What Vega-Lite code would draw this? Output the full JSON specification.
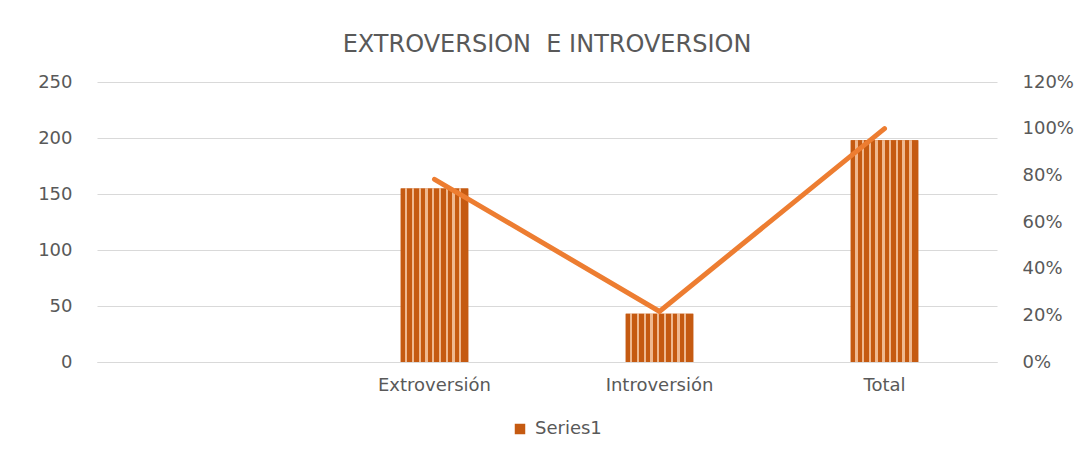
{
  "$schema": "https://vega.github.io/schema/vega-lite/v6.json",
  "autosize": "none",
  "width": 900,
  "height": 280,
  "padding": {"left": 97, "top": 82, "right": 91, "bottom": 87},
  "background": "white",
  "config": {
    "font": "DejaVu Sans",
    "view": {"stroke": null},
    "axis": {"labelColor": "#595959", "labelFont": "DejaVu Sans", "labelFontSize": 18, "gridColor": "#d9d9d9", "domainColor": "#d9d9d9", "ticks": false, "titleColor": "#595959"},
    "legend": {"labelColor": "#595959", "labelFont": "DejaVu Sans", "labelFontSize": 18}
  },
  "title": {"text": "EXTROVERSION \u00a0E INTROVERSION", "fontSize": 24, "font": "DejaVu Sans", "fontWeight": "normal", "color": "#595959", "anchor": "middle", "offset": 16},
  "data": {"values": [
    {"cat": " ", "count": null, "pct": null, "series": "Series1"},
    {"cat": "Extroversión", "count": 155, "pct": 0.783, "series": "Series1"},
    {"cat": "Introversión", "count": 43, "pct": 0.217, "series": "Series1"},
    {"cat": "Total", "count": 198, "pct": 1.0, "series": "Series1"}
  ]},
  "encoding": {
    "x": {"field": "cat", "type": "nominal", "sort": null,
      "scale": {"domain": [" ", "Extroversión", "Introversión", "Total"], "paddingInner": 0.7, "paddingOuter": 0.35},
      "axis": {"title": null, "labelAngle": 0, "labelPadding": 14, "domain": true, "grid": false}}
  },
  "layer": [
    {
      "layer": [
        {
          "mark": {"type": "bar"},
          "encoding": {
            "y": {"field": "count", "type": "quantitative", "scale": {"domain": [0, 250]},
              "axis": {"title": null, "values": [0, 50, 100, 150, 200, 250], "grid": true, "domain": false, "labelPadding": 25}},
            "color": {"field": "series", "type": "nominal", "scale": {"range": ["#C55A11"]},
              "legend": {"title": null, "orient": "none", "legendX": 414, "legendY": 338, "direction": "horizontal", "symbolType": "square", "symbolSize": 110, "labelOffset": 6}}
          }
        },
        {
          "mark": {"type": "bar", "fill": {
            "gradient": "linear", "x1": 0, "y1": 0, "x2": 1, "y2": 0,
            "stops": [
              {"offset": 0.0, "color": "#C55A11"}, {"offset": 0.065, "color": "#C55A11"}, {"offset": 0.065, "color": "#EFB88F"}, {"offset": 0.1, "color": "#EFB88F"},
              {"offset": 0.1, "color": "#C55A11"}, {"offset": 0.165, "color": "#C55A11"}, {"offset": 0.165, "color": "#EFB88F"}, {"offset": 0.2, "color": "#EFB88F"},
              {"offset": 0.2, "color": "#C55A11"}, {"offset": 0.265, "color": "#C55A11"}, {"offset": 0.265, "color": "#EFB88F"}, {"offset": 0.3, "color": "#EFB88F"},
              {"offset": 0.3, "color": "#C55A11"}, {"offset": 0.365, "color": "#C55A11"}, {"offset": 0.365, "color": "#EFB88F"}, {"offset": 0.4, "color": "#EFB88F"},
              {"offset": 0.4, "color": "#C55A11"}, {"offset": 0.465, "color": "#C55A11"}, {"offset": 0.465, "color": "#EFB88F"}, {"offset": 0.5, "color": "#EFB88F"},
              {"offset": 0.5, "color": "#C55A11"}, {"offset": 0.565, "color": "#C55A11"}, {"offset": 0.565, "color": "#EFB88F"}, {"offset": 0.6, "color": "#EFB88F"},
              {"offset": 0.6, "color": "#C55A11"}, {"offset": 0.665, "color": "#C55A11"}, {"offset": 0.665, "color": "#EFB88F"}, {"offset": 0.7, "color": "#EFB88F"},
              {"offset": 0.7, "color": "#C55A11"}, {"offset": 0.765, "color": "#C55A11"}, {"offset": 0.765, "color": "#EFB88F"}, {"offset": 0.8, "color": "#EFB88F"},
              {"offset": 0.8, "color": "#C55A11"}, {"offset": 0.865, "color": "#C55A11"}, {"offset": 0.865, "color": "#EFB88F"}, {"offset": 0.9, "color": "#EFB88F"},
              {"offset": 0.9, "color": "#C55A11"}, {"offset": 1.0, "color": "#C55A11"}
            ]}},
          "encoding": {
            "y": {"field": "count", "type": "quantitative", "scale": {"domain": [0, 250]}}
          }
        }
      ]
    },
    {
      "mark": {"type": "line", "color": "#ED7D31", "strokeWidth": 5, "strokeCap": "round"},
      "encoding": {
        "y": {"field": "pct", "type": "quantitative", "scale": {"domain": [0, 1.2]},
          "axis": {"title": null, "orient": "right", "values": [0, 0.2, 0.4, 0.6, 0.8, 1.0, 1.2], "format": ".0%", "grid": false, "domain": false, "labelPadding": 25}}
      }
    }
  ],
  "resolve": {"scale": {"y": "independent"}}
}
